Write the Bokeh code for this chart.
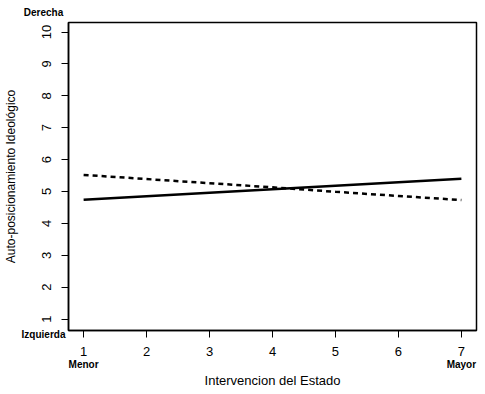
from bokeh.plotting import figure
from bokeh.models import Label, Range1d, FixedTicker, LinearAxis
from bokeh.embed import file_html
from bokeh.resources import INLINE

x_vals = [1, 2, 3, 4, 5, 6, 7]
solid_vals = [4.74, 4.85, 4.96, 5.07, 5.18, 5.29, 5.40]
dashed_vals = [5.52, 5.39, 5.26, 5.13, 4.99, 4.86, 4.73]
x_ticks = [1, 2, 3, 4, 5, 6, 7]
y_ticks = [1, 2, 3, 4, 5, 6, 7, 8, 9, 10]
end_ticks = [1, 7]
end_labels = {1: "Menor", 7: "Mayor"}

FONT = "Liberation Sans"

p = figure(width=484, height=393, output_backend="svg", toolbar_location=None,
           x_range=Range1d(0.76, 7.24), y_range=Range1d(0.64, 10.30),
           min_border_left=68, min_border_top=17, min_border_right=8, min_border_bottom=63)
p.grid.visible = False
p.outline_line_color = "black"
p.outline_line_width = 1.5
p.background_fill_color = "white"
p.border_fill_color = "white"

p.line(x_vals, solid_vals, line_color="black", line_width=2.5)
p.line(x_vals, dashed_vals, line_color="black", line_width=2.5, line_dash="5 4")

ax2 = LinearAxis(ticker=FixedTicker(ticks=end_ticks), major_label_overrides=end_labels)
p.add_layout(ax2, "below")

for ax in (p.xaxis[0], p.yaxis[0], ax2):
    ax.axis_line_color = "black"
    ax.axis_line_width = 1.5
    ax.major_tick_line_color = "black"
    ax.major_tick_in = 0
    ax.major_tick_out = 7
    ax.minor_tick_line_color = None
    ax.major_label_text_font = FONT
    ax.major_label_text_font_size = "13px"
    ax.major_label_text_color = "black"
    ax.axis_label_text_font = FONT
    ax.axis_label_text_font_size = "13px"
    ax.axis_label_text_font_style = "normal"
    ax.axis_label_text_color = "black"

ax2.axis_line_color = None
ax2.major_tick_line_color = None
ax2.major_tick_out = 0
ax2.major_label_text_font_size = "10px"
ax2.major_label_text_font_style = "bold"
ax2.major_label_standoff = 0

p.xaxis[0].ticker = FixedTicker(ticks=x_ticks)
p.yaxis.ticker = FixedTicker(ticks=y_ticks)
p.yaxis.major_label_orientation = "parallel"
p.xaxis[0].major_label_standoff = 9
p.yaxis.major_label_standoff = 10
ax2.axis_label = "Intervencion del Estado"
ax2.axis_label_standoff = 0
p.yaxis.axis_label = "Auto-posicionamiento Ideológico"
p.yaxis.axis_label_text_font_size = "12px"
p.yaxis.axis_label_standoff = 22

for txt, yv in [("Derecha", 10.6), ("Izquierda", 0.53)]:
    p.add_layout(Label(x=0.363, y=yv, text=txt,
                       text_font=FONT, text_font_size="10px",
                       text_font_style="bold", text_align="center", text_baseline="middle",
                       text_color="black"), "above")

open("out.html", "w").write(file_html(p, INLINE))
